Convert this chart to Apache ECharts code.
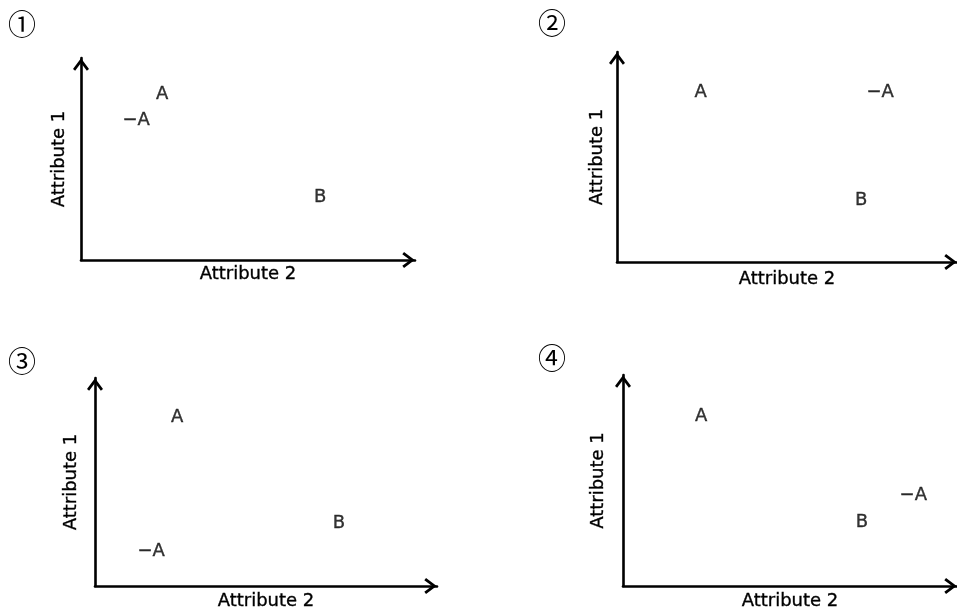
<!DOCTYPE html>
<html>
<head>
<meta charset="utf-8">
<script src="https://cdn.jsdelivr.net/npm/echarts@6/dist/echarts.min.js"></script>
<style>html,body{margin:0;padding:0;background:#fff;}#c{width:957px;height:612px;}</style>
</head>
<body>
<div id="c"></div>
<script>
// ---- data ----
const panelTitles = ['①', '②', '③', '④'];
const pointLabels = ['A', '−A', 'B'];
const xAxisName = 'Attribute 2';
const yAxisName = 'Attribute 1';
// Attribute 2 (x) and Attribute 1 (y) for A, −A, B in each panel (scale 0–10)
const panel1Attr2 = [2.43, 1.65, 7.16];
const panel1Attr1 = [8.22, 6.92, 3.10];
const panel2Attr2 = [2.46, 7.74, 7.18];
const panel2Attr1 = [8.10, 8.10, 2.95];
const panel3Attr2 = [2.40, 1.64, 7.13];
const panel3Attr1 = [8.13, 1.68, 3.03];
const panel4Attr2 = [2.34, 8.69, 7.15];
const panel4Attr1 = [8.06, 4.30, 3.02];

const panelX = [panel1Attr2, panel2Attr2, panel3Attr2, panel4Attr2];
const panelY = [panel1Attr1, panel2Attr1, panel3Attr1, panel4Attr1];

// ---- layout ----
const grids = [
  {left: 81, top: 58, width: 334, height: 202},
  {left: 617, top: 52, width: 341, height: 210},
  {left: 95, top: 378, width: 342, height: 208},
  {left: 623, top: 375, width: 337, height: 211}
];
const xNameGaps = [5, 8, 6, 6];
const yNameGaps = [13, 11, 15, 16];
const titlePos = [[22, 24], [552, 23], [22, 361], [552, 358]];

const chevron = 'path://M7.5,0 L15,10 L13,11.6 L7.5,4.3 L2,11.6 L0,10 Z';
const font = 'DejaVu Sans';
const ink = {color: '#000', textBorderColor: '#000', textBorderWidth: 0.35};

function axisLine() {
  return {
    show: true,
    symbol: ['none', chevron],
    symbolSize: [16, 13],
    symbolOffset: [0, -6.5],
    lineStyle: {color: '#000', width: 2.6}
  };
}

const xAxes = [], yAxes = [], series = [];
for (let i = 0; i < 4; i++) {
  xAxes.push({
    gridIndex: i, type: 'value', min: 0, max: 10,
    axisLine: axisLine(), axisTick: {show: false}, axisLabel: {show: false}, splitLine: {show: false},
    name: xAxisName, nameLocation: 'middle', nameGap: xNameGaps[i],
    nameTextStyle: Object.assign({fontSize: 18, fontFamily: font, verticalAlign: 'top'}, ink)
  });
  yAxes.push({
    gridIndex: i, type: 'value', min: 0, max: 10,
    axisLine: axisLine(), axisTick: {show: false}, axisLabel: {show: false}, splitLine: {show: false},
    name: yAxisName, nameLocation: 'middle', nameGap: yNameGaps[i], nameRotate: 90,
    nameTextStyle: Object.assign({fontSize: 18, fontFamily: font}, ink)
  });
  series.push({
    type: 'scatter', xAxisIndex: i, yAxisIndex: i,
    symbolSize: 1, itemStyle: {color: 'rgba(0,0,0,0)'},
    silent: true,
    label: Object.assign({show: true, position: 'inside', formatter: '{b}', fontSize: 18, fontFamily: font}, ink),
    data: pointLabels.map((n, k) => ({name: n, value: [panelX[i][k], panelY[i][k]]}))
  });
}

const chart = echarts.init(document.getElementById('c'), null, {renderer: 'canvas'});
chart.setOption({
  backgroundColor: '#fff',
  animation: false,
  grid: grids,
  xAxis: xAxes,
  yAxis: yAxes,
  series: series,
  graphic: panelTitles.map((t, i) => ({
    type: 'text', x: titlePos[i][0], y: titlePos[i][1],
    style: {text: t, fill: '#000', fontSize: 28, fontFamily: 'Noto Sans CJK JP', align: 'center', verticalAlign: 'middle'}
  }))
});
</script>
</body>
</html>
